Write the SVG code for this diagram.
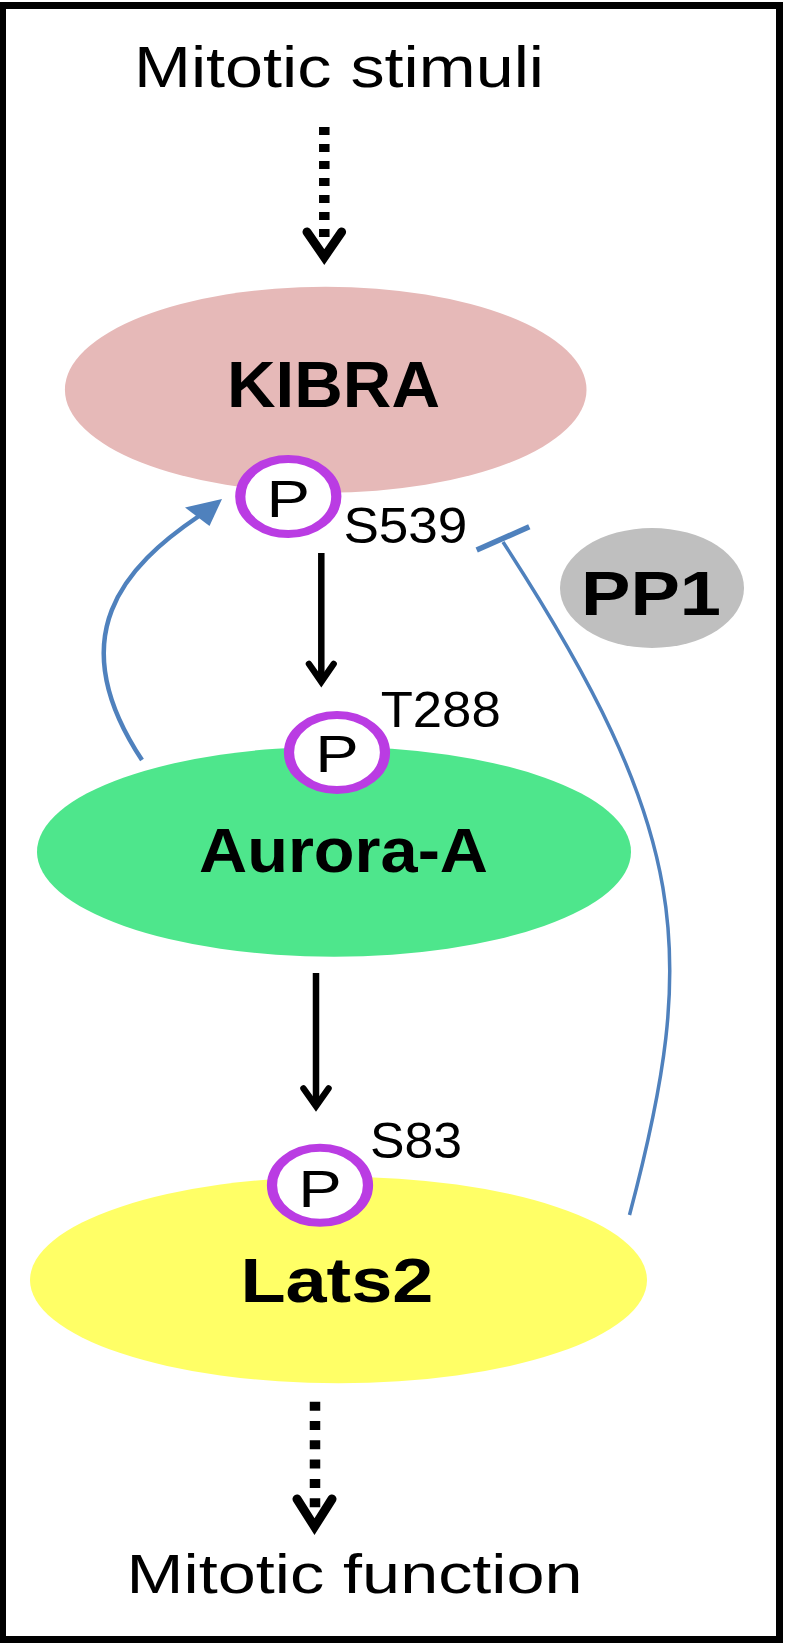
<svg xmlns="http://www.w3.org/2000/svg" width="786" height="1644" viewBox="0 0 786 1644">
<style>
.lbl{font-family:"Liberation Sans",Arial,sans-serif;fill:#000}
.big{font-size:58px}
.node{font-weight:bold}
.site{font-size:50px}
.ring{fill:#fff;stroke:#BA3CE3;stroke-width:8}
.blk{fill:none;stroke:#000;stroke-width:6.5}
.dot{fill:none;stroke:#000;stroke-width:10.5}
.chev{fill:none;stroke:#000;stroke-linejoin:miter;stroke-linecap:round}
.blue{fill:none;stroke:#4F81BD}
</style>
<rect x="2.5" y="5.5" width="777" height="1634" fill="#fff" stroke="#000" stroke-width="7"/>

<g id="mitotic-stimuli">
<text class="lbl big" x="134" y="87.3" textLength="410" lengthAdjust="spacingAndGlyphs">Mitotic stimuli</text>
</g>

<g id="kibra">
<ellipse cx="325.7" cy="389.7" rx="260.8" ry="103" fill="#E6B9B8"/>
<text class="lbl node" x="227" y="406.7" font-size="64" textLength="213" lengthAdjust="spacingAndGlyphs">KIBRA</text>
</g>

<g id="pp1">
<ellipse cx="652" cy="588" rx="92" ry="60" fill="#BFBFBF"/>
<text class="lbl node" x="581" y="615" font-size="63" textLength="140" lengthAdjust="spacingAndGlyphs">PP1</text>
</g>

<g id="aurora-a">
<ellipse cx="334" cy="851.7" rx="297" ry="105" fill="#4EE68C"/>
<text class="lbl node" x="199" y="871.7" font-size="63" textLength="289" lengthAdjust="spacingAndGlyphs">Aurora-A</text>
</g>

<g id="lats2">
<ellipse cx="338.5" cy="1280" rx="308.5" ry="103.3" fill="#FFFF66"/>
<text class="lbl node" x="240.4" y="1301.7" font-size="63" textLength="193" lengthAdjust="spacingAndGlyphs">Lats2</text>
</g>

<g id="mitotic-function">
<text class="lbl" x="126.6" y="1593.3" font-size="56" textLength="456" lengthAdjust="spacingAndGlyphs">Mitotic function</text>
</g>

<g id="connectors">
<line class="dot" x1="324.3" y1="127" x2="324.3" y2="240" stroke-dasharray="8 9"/>
<polyline class="chev" stroke-width="9" points="307,232 324.3,257 341.6,232"/>
<line class="blk" x1="321.3" y1="553" x2="321.3" y2="680"/>
<polyline class="chev" stroke-width="6.5" points="309,664 321.3,681.7 333.6,664"/>
<line class="blk" x1="316" y1="973" x2="316" y2="1105"/>
<polyline class="chev" stroke-width="6.5" points="303.5,1088.5 316,1106.2 328.5,1088.5"/>
<line class="dot" x1="315" y1="1401.7" x2="315" y2="1512" stroke-dasharray="9 10.3"/>
<polyline class="chev" stroke-width="9" points="297,1499 314.5,1526.6 332,1499"/>
<path class="blue" stroke-width="4.5" d="M142,760 C59.5,635.5 125,566 199,516"/>
<polygon fill="#4F81BD" points="222,499 185,507.5 209.5,526"/>
<path class="blue" stroke-width="3.5" d="M503,542 C690,830 700,950 629.5,1215"/>
<line class="blue" stroke-width="5.5" x1="476.7" y1="550" x2="529.3" y2="526.7"/>
</g>

<g id="kibra-p-s539">
<g transform="translate(288.3,496.5) scale(1.28,1)">
<circle class="ring" r="37.5"/>
<text class="lbl" y="20.2" font-size="51" text-anchor="middle">P</text>
</g>
<text class="lbl site" x="343.4" y="542.5" textLength="124" lengthAdjust="spacingAndGlyphs">S539</text>
</g>

<g id="aurora-p-t288">
<g transform="translate(337,752.5) scale(1.28,1)">
<circle class="ring" r="37.5"/>
<text class="lbl" y="19.2" font-size="51" text-anchor="middle">P</text>
</g>
<text class="lbl site" x="380.7" y="726.7" textLength="120" lengthAdjust="spacingAndGlyphs">T288</text>
</g>

<g id="lats2-p-s83">
<g transform="translate(320,1185.3) scale(1.28,1)">
<circle class="ring" r="37.5"/>
<text class="lbl" y="21.4" font-size="51" text-anchor="middle">P</text>
</g>
<text class="lbl site" x="370" y="1158" textLength="92" lengthAdjust="spacingAndGlyphs">S83</text>
</g>
</svg>
